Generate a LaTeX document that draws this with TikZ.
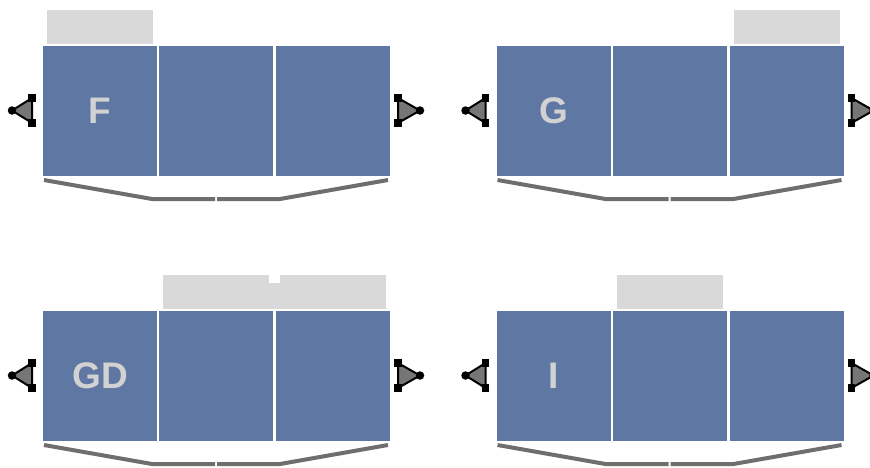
\documentclass[tikz,border=0pt]{standalone}
\usepackage{fontspec}
\setmainfont{Liberation Sans}
\definecolor{cellblue}{RGB}{94,119,163}
\definecolor{tabgray}{RGB}{217,217,217}
\definecolor{labgray}{RGB}{210,210,210}
\definecolor{brkgray}{RGB}{110,110,110}
\definecolor{trifill}{RGB}{118,118,118}
\tikzset{
  cell/.style={fill=cellblue, draw=none, minimum width=114pt, minimum height=130pt, inner sep=0pt, text=labgray, font=\fontsize{37}{37}\selectfont\bfseries},
  tab/.style={fill=tabgray, draw=none, inner sep=0pt, minimum height=34pt},
  bracket/.style={draw=brkgray, line width=4pt, line join=miter},
  tri/.style={draw=black, fill=trifill, line width=2pt, line join=miter},
  sq/.style={fill=black, draw=none, minimum size=7.5pt, inner sep=0pt},
  dotc/.style={circle, fill=black, draw=none, minimum size=8.5pt, inner sep=0pt}
}
\newcommand\mypanel[4]{%
\begin{scope}[shift={(#2,#3)}]
  \node[cell] (#1a) at (100,111) {#4};
  \node[cell] (#1b) at (216,111) {};
  \node[cell] (#1c) at (333,111) {};
  % bracket
  \coordinate (#1p1) at (44,180);
  \coordinate (#1p2) at (152,199);
  \coordinate (#1p3) at (215,199);
  \coordinate (#1p4) at (217,199);
  \coordinate (#1p5) at (280,199);
  \coordinate (#1p6) at (388,180);
  \draw[bracket] (#1p1) -- (#1p2) -- (#1p3);
  \draw[bracket] (#1p4) -- (#1p5) -- (#1p6);
  % left triangle
  \coordinate (#1lt) at (12,110.5);
  \coordinate (#1lu) at (32,98);
  \coordinate (#1ld) at (32,123);
  \draw[tri] (#1lt) -- (#1lu) -- (#1ld) -- cycle;
  \node[dotc] (#1ltd) at (#1lt) {};
  \node[sq] (#1lus) at (#1lu) {};
  \node[sq] (#1lds) at (#1ld) {};
  % right triangle
  \coordinate (#1rt) at (420,110.5);
  \coordinate (#1ru) at (398,98);
  \coordinate (#1rd) at (398,123);
  \draw[tri] (#1rt) -- (#1ru) -- (#1rd) -- cycle;
  \node[dotc] (#1rtd) at (#1rt) {};
  \node[sq] (#1rus) at (#1ru) {};
  \node[sq] (#1rds) at (#1rd) {};
\end{scope}}
\begin{document}
\begin{tikzpicture}[x=1pt,y=-1pt]
\useasboundingbox (0,0) rectangle (870,467);
\clip (0,0) rectangle (870,467);
\mypanel{f}{0}{0}{F}
\mypanel{g}{453.5}{0}{G}
\mypanel{d}{0}{265}{GD}
\mypanel{i}{453.5}{265}{I}
% tabs
\node[tab, minimum width=106pt] (ftab) at (100,27) {};
\node[tab, minimum width=106pt] (gtab) at (787,27) {};
\node[tab, minimum width=106pt] (dtab1) at (216,292) {};
\node[tab, minimum width=106pt] (dtab2) at (333,292) {};
\fill[tabgray] (268,283) rectangle (281,309);
\node[tab, minimum width=106pt] (itab) at (670,292) {};
\end{tikzpicture}
\end{document}
